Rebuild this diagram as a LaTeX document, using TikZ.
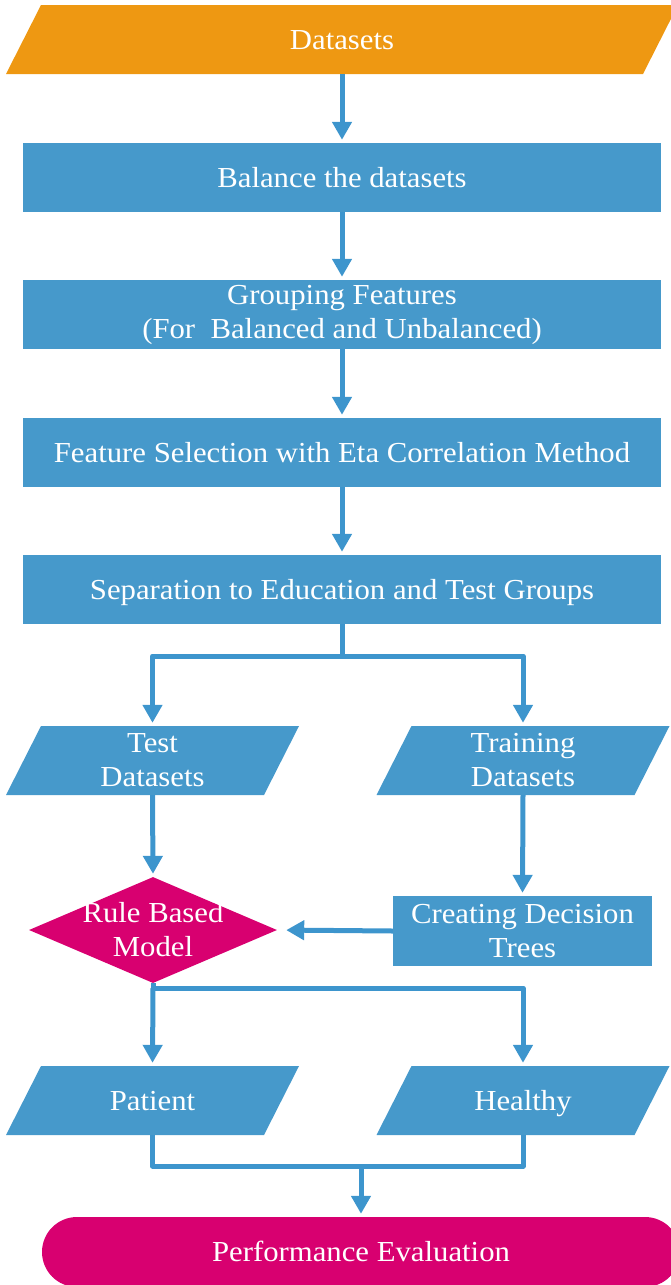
\documentclass[tikz,border=0pt]{standalone}
\usepackage{fontspec}
\setmainfont{Liberation Serif}[FakeStretch=1.06]
\usetikzlibrary{shapes.geometric,shapes.misc,arrows.meta}
\definecolor{cOrange}{HTML}{EE9812}
\definecolor{cBlue}{HTML}{4699CB}
\definecolor{cLine}{HTML}{3D95CD}
\definecolor{cMag}{HTML}{D80070}
\begin{document}
\begin{tikzpicture}[x=1pt,y=-1pt,
  txt/.style={text=white,font=\fontsize{29}{34}\selectfont,align=center},
  box/.style={txt,rectangle,fill=cBlue,minimum width=638pt,minimum height=69pt,inner sep=0pt},
  para/.style={txt,rectangle,minimum width=293pt,minimum height=69pt,inner sep=0pt,
    path picture={\fill[#1] ([xshift=35pt]path picture bounding box.north west)
      -- (path picture bounding box.north east)
      -- ([xshift=-35pt]path picture bounding box.south east)
      -- (path picture bounding box.south west) -- cycle;}},
  para/.default=cBlue,
  oneline/.style={text height=25pt,text depth=6pt},
  line/.style={draw=cLine,line width=5pt,line join=round},
  arr/.style={line,-{Triangle[width=19pt,length=18pt]},shorten >=3pt}
]
\useasboundingbox (0,0) rectangle (671,1285);
% nodes
\node[para=cOrange,oneline,minimum width=672pt] (ds) at (342,39.5) {Datasets};
\node[box,oneline] (bal) at (342,177.5) {Balance the datasets};
\node[box] (grp) at (342,314.5) {Grouping Features\\(For~ Balanced and Unbalanced)};
\node[box,oneline] (fs) at (342,452.5) {Feature Selection with Eta Correlation Method};
\node[box,oneline] (sep) at (342,589.5) {Separation to Education and Test Groups};
\node[para] (test) at (152.5,760.5) {Test\\Datasets};
\node[para] (train) at (523,760.5) {Training\\Datasets};
\node[diamond,fill=cMag,minimum width=248pt,minimum height=106pt,inner sep=0pt,shape aspect=2.34,
  label={[txt]center:{Rule Based\\Model}}] (rb) at (153,930) {};
\node[txt,rectangle,fill=cBlue,minimum width=259pt,minimum height=70pt,inner sep=0pt] (cdt) at (522.5,931) {Creating Decision\\Trees};
\node[para,oneline] (pat) at (152.5,1100.5) {Patient};
\node[para,oneline] (hl) at (523,1100.5) {Healthy};
\node[txt,oneline,rounded rectangle,fill=cMag,minimum width=638pt,minimum height=70pt,inner sep=0pt] (pe) at (361,1252) {Performance Evaluation};
% junctions
\coordinate (j1) at (342,656);
\coordinate (j2) at (153,988);
\coordinate (j3) at (361,1166);
% connectors
\draw[arr] (ds.south) -- (bal.north);
\draw[arr] (bal.south) -- (grp.north);
\draw[arr] (grp.south) -- (fs.north);
\draw[arr] (fs.south) -- (sep.north);
\draw[line] (sep.south) -- (j1);
\draw[arr] (j1) -| (test.north);
\draw[arr] (j1) -| (train.north);
\draw[arr] (test.south) -- (rb.north);
\draw[arr] (train.south) -- (cdt.north);
\draw[arr,shorten >=9pt] (cdt.west) -- (rb.east);
\draw[line] (rb.south) -- (j2);
\draw[arr] (j2) -- (pat.north);
\draw[arr] (j2) -| (hl.north);
\draw[line] (pat.south) |- (j3) -| (hl.south);
\draw[arr] (j3) -- (pe.north);
\end{tikzpicture}
\end{document}
